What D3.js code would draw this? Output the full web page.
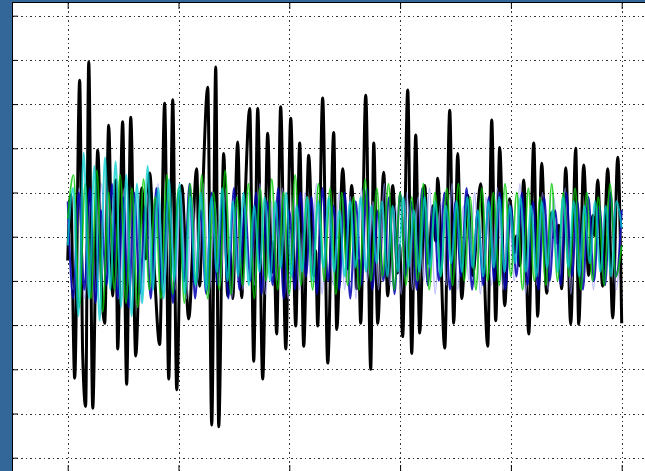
<!DOCTYPE html>
<html>
<head>
<meta charset="utf-8">
<script src="https://cdn.jsdelivr.net/npm/d3@7"></script>
<style>
  body { margin: 0; background: #336699; }
  svg { display: block; }
</style>
</head>
<body>
<div id="chart"></div>
<script>
// x ticks / y ticks (values in data units)
const xTicks = [0, 100, 200, 300, 400, 500];
const yTicks = [-2.5, -2, -1.5, -1, -0.5, 0, 0.5, 1, 1.5, 2, 2.5];

// black signal, turning points: [t, value]
const blackT = [0, 2.7, 6.3, 10.8, 13.5, 16.2, 19.0, 22.6, 27.1, 30.7, 33.4, 37.0, 40.6, 43.3, 45.1, 49.6, 53.2, 56.9, 61.4, 66.8,
  70.4, 74.0, 78.5, 83.0, 87.5, 91.2, 94.8, 98.4, 102.9, 109.2, 116.4, 119.1, 121.8, 126.4, 130.0, 133.6, 136.3, 140.8, 144.4, 146.2,
  148.9, 153.4, 157.0, 159.7, 164.3, 167.9, 171.5, 176.0, 180.5, 184.1, 185.9, 188.6, 192.2, 196.8, 201.3, 205.8, 209.4, 213.0, 217.5, 222.0,
  223.8, 225.6, 230.1, 234.7, 240.1, 242.8, 248.2, 252.7, 256.3, 260.8, 262.6, 264.4, 269.0, 273.5, 276.2, 279.8, 285.2, 288.8, 293.3, 297.8,
  299.6, 302.3, 306.9, 310.5, 314.1, 317.7, 322.2, 325.8, 329.4, 332.1, 333.9, 340.3, 344.8, 348.4, 352.0, 355.6, 361.0, 365.5, 372.7, 379.1,
  382.7, 386.3, 389.9, 394.4, 398.9, 403.4, 405.2, 407.9, 411.6, 416.1, 420.6, 424.2, 427.8, 432.3, 436.8, 441.3, 443.1, 445.8, 449.5, 454.0,
  458.5, 461.2, 465.7, 470.2, 473.8, 475.6, 478.3, 482.8, 487.4, 491.9, 496.4, 500.0];
const blackV = [-0.27, 0.47, -1.60, 1.77, -1.32, -1.92, 1.98, -1.94, 0.98, -0.59, -0.98, 1.26, -0.67, 0.64, -1.27, 1.30, -1.67, 1.35, -1.35, 0.55,
  -0.25, 0.72, -0.44, -1.22, 1.51, -1.61, 1.55, -1.73, 0.58, -0.93, 0.77, -0.56, 0.47, 1.69, -2.13, 1.92, -2.15, 0.94, -0.67, -0.16,
  -0.70, 1.07, -0.69, 0.27, 1.45, -1.41, 1.45, -1.61, 1.17, -0.41, -0.05, -1.10, 1.47, -1.27, 1.34, -1.01, 1.06, -1.24, 0.92, -0.44,
  -0.16, -1.01, 1.57, -1.43, 1.18, -1.05, 0.77, -0.36, 0.58, -0.59, -0.27, -0.98, 1.60, -1.50, 1.06, -0.98, 0.73, -0.67, 0.58, -0.41,
  -0.10, -1.13, 1.66, -1.32, 1.15, -1.09, 0.58, -0.30, 0.35, -0.05, 0.66, -1.26, 1.43, -0.98, 0.94, -0.70, 0.47, -0.44, 0.60, -1.24,
  1.32, -0.95, 1.01, -0.78, 0.43, -0.18, 0.01, -0.33, 0.64, -1.10, 1.06, -0.90, 0.83, -0.64, 0.27, -0.07, 0.13, -0.59, 0.78, -0.99,
  1.00, -0.99, 0.81, -0.44, 0.24, 0.01, 0.64, -0.56, 0.77, -0.92, 0.90, -0.98];

// coloured signals, evenly spaced samples across 0..500
const lavender = [0.3, -0.6, 0.55, -0.7, 0.4, -0.65, 0.6, -0.5, 0.35, -0.7, 0.55, -0.6, 0.45, -0.75, 0.5, -0.55, 0.6, -0.65, 0.35, -0.6,
  0.5, -0.7, 0.45, -0.5, 0.6, -0.65, 0.4, -0.55, 0.55, -0.7, 0.35, -0.6, 0.5, -0.55, 0.6, -0.65, 0.4, -0.5, 0.55, -0.7,
  0.45, -0.6, 0.5, -0.5, 0.6, -0.65, 0.35, -0.55, 0.5, -0.6, 0.45, -0.7, 0.55, -0.5, 0.4, -0.6, 0.6, -0.55, 0.35, -0.65,
  0.5, -0.6, 0.45, -0.5, 0.55, -0.65, 0.4, -0.55, 0.6, -0.6, 0.35, -0.5, 0.5, -0.65, 0.45, -0.55, 0.55, -0.6, 0.4, -0.5,
  0.6, -0.65, 0.35, -0.55, 0.5, -0.6, 0.45, -0.5, 0.55, -0.65, 0.4, -0.55, 0.5, -0.6, 0.35, -0.5, 0.55, -0.6, 0.3];
const blue = [0.4, -0.7, 0.5, -0.6, 0.55, -0.75, 0.3, -0.55, 0.6, -0.7, 0.45, -0.8, 0.5, -0.65, 0.35, -0.7, 0.55, -0.6, 0.4, -0.75,
  0.5, -0.5, 0.6, -0.7, 0.3, -0.65, 0.5, -0.55, 0.45, -0.7, 0.55, -0.6, 0.35, -0.5, 0.5, -0.65, 0.4, -0.55, 0.55, -0.7,
  0.3, -0.6, 0.5, -0.45, 0.45, -0.65, 0.55, -0.5, 0.35, -0.6, 0.5, -0.7, 0.4, -0.55, 0.55, -0.6, 0.3, -0.5, 0.45, -0.65,
  0.5, -0.45, 0.4, -0.6, 0.55, -0.55, 0.35, -0.5, 0.5, -0.6, 0.4, -0.45, 0.55, -0.6, 0.3, -0.55, 0.45, -0.5, 0.5, -0.6,
  0.35, -0.45, 0.5, -0.55, 0.4, -0.6, 0.45, -0.5, 0.3, -0.55, 0.5, -0.45, 0.4, -0.6, 0.45, -0.5, 0.35, -0.55, 0.5, -0.45, 0.3];
const green = [0.2, 0.7, -0.8, 0.6, -0.7, 0.75, -0.85, 0.5, -0.6, 0.7, -0.75, 0.55, -0.8, 0.65, -0.6, 0.45, -0.7, 0.7, -0.65, 0.55,
  -0.75, 0.6, -0.55, 0.7, -0.7, 0.5, -0.6, 0.75, -0.65, 0.45, -0.55, 0.6, -0.7, 0.55, -0.5, 0.65, -0.6, 0.5, -0.65, 0.7,
  -0.55, 0.45, -0.6, 0.6, -0.5, 0.55, -0.65, 0.5, -0.55, 0.45, -0.6, 0.65, -0.5, 0.55, -0.45, 0.6, -0.6, 0.5, -0.55, 0.45,
  -0.5, 0.6, -0.6, 0.5, -0.45, 0.55, -0.55, 0.6, -0.5, 0.45, -0.6, 0.55, -0.5, 0.5, -0.55, 0.6, -0.45, 0.5, -0.6, 0.55,
  -0.5, 0.45, -0.55, 0.6, -0.5, 0.5, -0.45, 0.55, -0.6, 0.5, -0.5, 0.45, -0.55, 0.6, -0.45, -0.1];
const cyan = [-0.1, 0.55, -0.9, 0.95, -0.7, 0.8, -0.95, 0.9, -0.6, 0.85, -0.8, 0.7, -0.9, 0.6, -0.75, 0.8, -0.6, 0.55, -0.7, 0.65,
  -0.5, 0.6, -0.65, 0.45, -0.55, 0.5, -0.6, 0.45, -0.4, 0.55, -0.5, 0.4, -0.45, 0.5, -0.55, 0.35, -0.4, 0.45, -0.5, 0.4,
  -0.35, 0.5, -0.45, 0.35, -0.4, 0.45, -0.5, 0.4, -0.35, 0.45, -0.4, 0.3, -0.45, 0.4, -0.35, 0.45, -0.4, 0.35, -0.3, 0.4,
  -0.45, 0.35, -0.4, 0.45, -0.35, 0.3, -0.4, 0.45, -0.35, 0.4, -0.45, 0.35, -0.3, 0.4, -0.4, 0.45, -0.35, 0.3, -0.45, 0.4,
  -0.35, 0.45, -0.4, 0.35, -0.3, 0.45, -0.4, 0.35, -0.45, 0.4, -0.35, 0.3, -0.4, 0.45, -0.35, 0.4, -0.45, 0.35, -0.3, 0.4,
  -0.4, 0.35, -0.45, 0.4, 0.1];

const W = 645, H = 471;
const frameLeft = 12, frameTop = 2;

const svg = d3.select('#chart').append('svg')
  .attr('width', W)
  .attr('height', H);

svg.append('rect')
  .attr('width', W).attr('height', H)
  .attr('fill', '#336699');

svg.append('rect')
  .attr('x', frameLeft).attr('y', frameTop)
  .attr('width', W - frameLeft).attr('height', H - frameTop + 5)
  .attr('fill', '#fff');

const x = d3.scaleLinear().domain([0, 500]).range([67.7, 621.7]);
const y = d3.scaleLinear().domain([-2.5, 2.5]).range([457.7, 15.7]);

// dotted grid
const grid = svg.append('g');
grid.selectAll('line.gx')
  .data(xTicks)
  .join('line')
  .attr('class', 'gx')
  .attr('x1', d => Math.round(x(d)) + 0.5).attr('x2', d => Math.round(x(d)) + 0.5)
  .attr('y1', frameTop).attr('y2', H);
grid.selectAll('line.gy')
  .data(yTicks)
  .join('line')
  .attr('class', 'gy')
  .attr('x1', frameLeft).attr('x2', W)
  .attr('y1', d => Math.round(y(d)) + 0.5).attr('y2', d => Math.round(y(d)) + 0.5);
grid.selectAll('line')
  .attr('stroke', '#333')
  .attr('stroke-width', 1)
  .attr('stroke-dasharray', '2,3,1,3');

// lines
const line = d3.line()
  .x(d => x(d[0]))
  .y(d => y(d[1]))
  .curve(d3.curveMonotoneX);

const even = arr => arr.map((v, i) => [i * 500 / (arr.length - 1), v]);

svg.append('path')
  .datum(blackT.map((t, i) => [t, blackV[i]]))
  .attr('d', line)
  .attr('fill', 'none')
  .attr('stroke', '#000')
  .attr('stroke-width', 3)
  .attr('stroke-linejoin', 'round');

const series = [
  {data: lavender, color: '#9a9aff', width: 1.6, op: 0.7},
  {data: blue, color: '#0000b0', width: 2, op: 0.85},
  {data: green, color: '#00c800', width: 1.8, op: 0.8},
  {data: cyan, color: '#00cccc', width: 2, op: 0.75}
];

series.forEach(s => {
  svg.append('path')
    .datum(even(s.data))
    .attr('d', line)
    .attr('fill', 'none')
    .attr('stroke', s.color)
    .attr('stroke-width', s.width)
    .attr('stroke-opacity', s.op);
});

// inward tick marks
svg.append('g')
  .attr('transform', `translate(${frameLeft},0)`)
  .call(d3.axisLeft(y).tickValues(yTicks).tickSize(-6).tickFormat(''))
  .call(g => g.select('.domain').remove());
svg.append('g')
  .attr('transform', `translate(0,${frameTop})`)
  .call(d3.axisTop(x).tickValues(xTicks).tickSize(-7).tickFormat(''))
  .call(g => g.select('.domain').remove());
svg.append('g')
  .attr('transform', `translate(0,${H + 1})`)
  .call(d3.axisBottom(x).tickValues(xTicks).tickSize(-7).tickFormat(''))
  .call(g => g.select('.domain').remove());

// frame
svg.append('line')
  .attr('x1', frameLeft + 0.5).attr('x2', frameLeft + 0.5)
  .attr('y1', frameTop).attr('y2', H)
  .attr('stroke', '#000');
svg.append('line')
  .attr('x1', frameLeft).attr('x2', W)
  .attr('y1', frameTop + 0.5).attr('y2', frameTop + 0.5)
  .attr('stroke', '#000');
</script>
</body>
</html>
